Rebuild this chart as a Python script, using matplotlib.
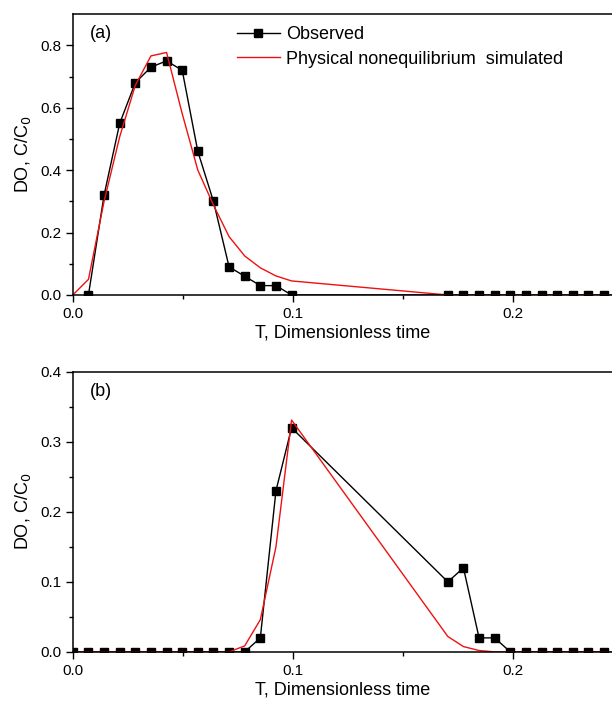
import matplotlib
matplotlib.use("Agg")
import matplotlib.pyplot as plt
import numpy as np

plt.rcParams['font.family'] = ['Liberation Sans', 'DejaVu Sans']

dt = 0.0071
# Panel (a)
a_obs_k = [1, 2, 3, 4, 5, 6, 7, 8, 9, 10, 11, 12, 13, 14,
           24, 25, 26, 27, 28, 29, 30, 31, 32, 33, 34]
a_obs_c = [0.0, 0.32, 0.55, 0.68, 0.73, 0.75, 0.72, 0.46, 0.30, 0.09, 0.06, 0.03, 0.03, 0.0,
           0, 0, 0, 0, 0, 0, 0, 0, 0, 0, 0]
a_sim_k = [0, 1, 2, 3, 4, 5, 6, 7, 8, 9, 10, 11, 12, 13, 14, 24, 34.5]
a_sim_c = [0.0, 0.05, 0.30, 0.507, 0.672, 0.766, 0.777, 0.581, 0.40, 0.288, 0.187, 0.125,
           0.087, 0.061, 0.045, 0.0, 0.0]

# Panel (b)
b_obs_k = [0, 1, 2, 3, 4, 5, 6, 7, 8, 9, 10, 11, 12, 13, 14,
           24, 25, 26, 27, 28, 29, 30, 31, 32, 33, 34]
b_obs_c = [0, 0, 0, 0, 0, 0, 0, 0, 0, 0, 0, 0, 0.02, 0.23, 0.32,
           0.10, 0.12, 0.02, 0.02, 0, 0, 0, 0, 0, 0, 0]
b_sim_k = [0, 10, 11, 12, 13, 14, 24, 25, 26, 27, 34.5]
b_sim_c = [0.0, 0.0, 0.0086, 0.046, 0.150, 0.331, 0.022, 0.0076, 0.002, 0.0, 0.0]

fig = plt.figure(figsize=(6.12, 7.04), dpi=100)
ax1 = fig.add_axes([0.119, 0.581, 0.881, 0.399])
ax2 = fig.add_axes([0.119, 0.074, 0.881, 0.398])

def style(ax, ymax, ymaj, ymin):
    ax.set_xlim(0, 0.245)
    ax.set_ylim(0, ymax)
    ax.set_xticks([0.0, 0.1, 0.2])
    ax.set_xticklabels(['0.0', '0.1', '0.2'])
    ax.set_xticks([0.05, 0.15], minor=True)
    yt = np.arange(0, ymax + 1e-9, ymaj)
    ax.set_yticks(yt)
    ax.set_yticklabels(['%.1f' % v for v in yt])
    ax.set_yticks(np.arange(ymin, ymax, ymaj), minor=True)
    ax.tick_params(which='major', direction='out', length=5, width=1, labelsize=11)
    ax.tick_params(which='minor', direction='out', length=3, width=1)
    for s in ax.spines.values():
        s.set_linewidth(1.1)
    ax.spines['right'].set_visible(False)
    ax.set_xlabel('T, Dimensionless time', fontsize=13, labelpad=3)
    ax.set_ylabel('DO, C/C$_0$', fontsize=13, labelpad=5)

x = lambda k: np.array(k) * dt

ax1.plot(x(a_obs_k), a_obs_c, color='black', lw=1, marker='s', ms=5.5,
         label='Observed')
ax1.plot(x(a_sim_k), a_sim_c, color='#ee1111', lw=1,
         label='Physical nonequilibrium  simulated')
style(ax1, 0.9, 0.2, 0.1)
ax1.text(0.032, 0.93, '(a)', transform=ax1.transAxes, fontsize=13, va='center')
ax1.legend(loc='upper left', bbox_to_anchor=(0.304, 0.957), frameon=False,
           fontsize=13, handlelength=2.4, handletextpad=0.33, labelspacing=0.42,
           borderaxespad=0, borderpad=0)

ax2.plot(x(b_obs_k), b_obs_c, color='black', lw=1, marker='s', ms=5.5)
ax2.plot(x(b_sim_k), b_sim_c, color='#ee1111', lw=1)
style(ax2, 0.4, 0.1, 0.05)
ax2.text(0.032, 0.93, '(b)', transform=ax2.transAxes, fontsize=13, va='center')

fig.savefig('out.png', dpi=100)
